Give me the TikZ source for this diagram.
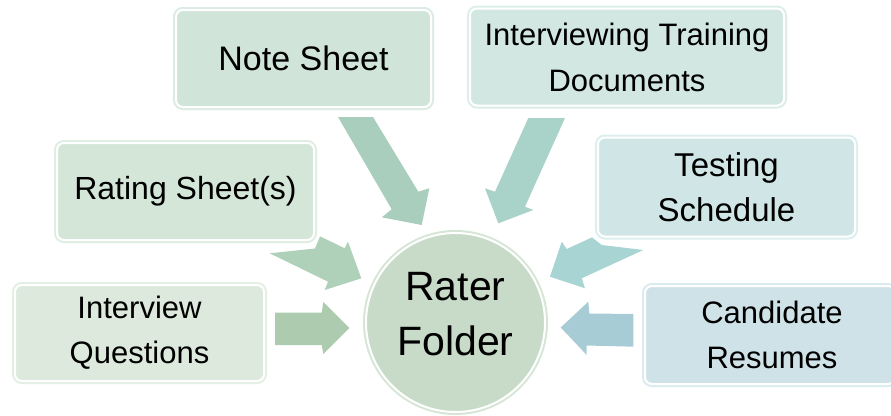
\documentclass[tikz,border=0pt]{standalone}
\usepackage{fontspec}
\setmainfont{Liberation Sans}
\definecolor{noteFill}{HTML}{D0E4D9}\definecolor{noteBorder}{HTML}{DCEBE3}
\definecolor{ratFill}{HTML}{D3E6D8}\definecolor{ratBorder}{HTML}{DFEDE2}
\definecolor{intFill}{HTML}{DCE9DC}\definecolor{intBorder}{HTML}{E4EFE4}
\definecolor{trainFill}{HTML}{D2E7E1}\definecolor{trainBorder}{HTML}{DCEEE8}
\definecolor{testFill}{HTML}{D0E6E6}\definecolor{testBorder}{HTML}{DCEEEE}
\definecolor{candFill}{HTML}{CFE2E8}\definecolor{candBorder}{HTML}{DAEBEF}
\definecolor{circFill}{HTML}{C7DBC8}\definecolor{circBorder}{HTML}{D6E6D6}
\definecolor{noteArr}{HTML}{AACEBE}\definecolor{trainArr}{HTML}{A9D2C8}
\definecolor{ratArr}{HTML}{AFD0B9}\definecolor{intArr}{HTML}{ADCCAF}
\definecolor{testArr}{HTML}{A8D4D4}\definecolor{candArr}{HTML}{A8CCD6}
\begin{document}
\begin{tikzpicture}[x=1pt,y=-1pt,
  mybox/.style n args={4}{rectangle, rounded corners=7pt, inner sep=0pt, align=center,
    text=black, fill=#1, draw=white, line width=2pt,
    preaction={draw=white, line width=12pt},
    preaction={draw=#2, line width=6pt},
    minimum width=#3, minimum height=#4},
  blockarrow/.style={fill=#1, draw=none}
]
\useasboundingbox (0,0) rectangle (891,415);
% block arrows
\fill[blockarrow=noteArr] (338,117) -- (373,117) -- (418.3,191.7) -- (429.3,188.3) -- (421.7,225) -- (381.7,217.3) -- (391.7,209.3) -- cycle;
\fill[blockarrow=trainArr] (528.3,118) -- (565,118) -- (525,206.7) -- (533.3,210) -- (498.3,223.3) -- (485,188.3) -- (495,191.7) -- cycle;
\fill[blockarrow=ratArr] (269.7,253.3) -- (328,281.7) -- (324.7,290) -- (361.3,278.3) -- (348,241.7) -- (344.7,248.3) -- (320,236.3) -- (315,248.5) -- cycle;
\fill[blockarrow=intArr] (275,312.5) -- (321.7,312.5) -- (323.3,302) -- (349.3,328) -- (323.3,354) -- (321.7,345) -- (275,345) -- cycle;
\fill[blockarrow=testArr] (550,276.7) -- (561.7,241.7) -- (566.7,249) -- (592,237.4) -- (601.7,245) -- (643.3,250) -- (581.7,278.3) -- (585,288.3) -- cycle;
\fill[blockarrow=candArr] (560.7,327.5) -- (588.3,301.7) -- (589.3,313.5) -- (633.3,314) -- (633.3,346.7) -- (586.7,345.5) -- (586.7,355) -- cycle;
% boxes
\node[mybox={noteFill}{noteBorder}{255pt}{97pt}, font=\fontsize{34}{46}\selectfont] (note) at (303.5,58.5) {Note Sheet};
\node[mybox={ratFill}{ratBorder}{257pt}{97pt}, font=\fontsize{32}{44}\selectfont] (rating) at (185.5,191.5) {Rating Sheet(s)};
\node[mybox={intFill}{intBorder}{249pt}{96pt}, font=\fontsize{31}{45}\selectfont] (interview) at (139.5,333) {Interview\\Questions};
\node[mybox={trainFill}{trainBorder}{314pt}{97pt}, font=\fontsize{31}{46}\selectfont] (training) at (627,57) {Interviewing Training\\Documents};
\node[mybox={testFill}{testBorder}{257pt}{99pt}, font=\fontsize{33}{45}\selectfont] (testing) at (726.5,187) {Testing\\Schedule};
\node[mybox={candFill}{candBorder}{250pt}{98pt}, font=\fontsize{31}{45}\selectfont] (cand) at (770,335) {\hspace*{4pt}Candidate\\\hspace*{4pt}Resumes};
% centre circle
\node[circle, inner sep=0pt, minimum size=179pt, fill=circFill, draw=white, line width=2pt,
      preaction={draw=circBorder, line width=6pt},
      label={[name=folderlabel, font=\fontsize{41}{55}\selectfont, align=center, yshift=8pt]center:Rater\\Folder}]
      (folder) at (455.5,322.5) {};
\end{tikzpicture}
\end{document}
